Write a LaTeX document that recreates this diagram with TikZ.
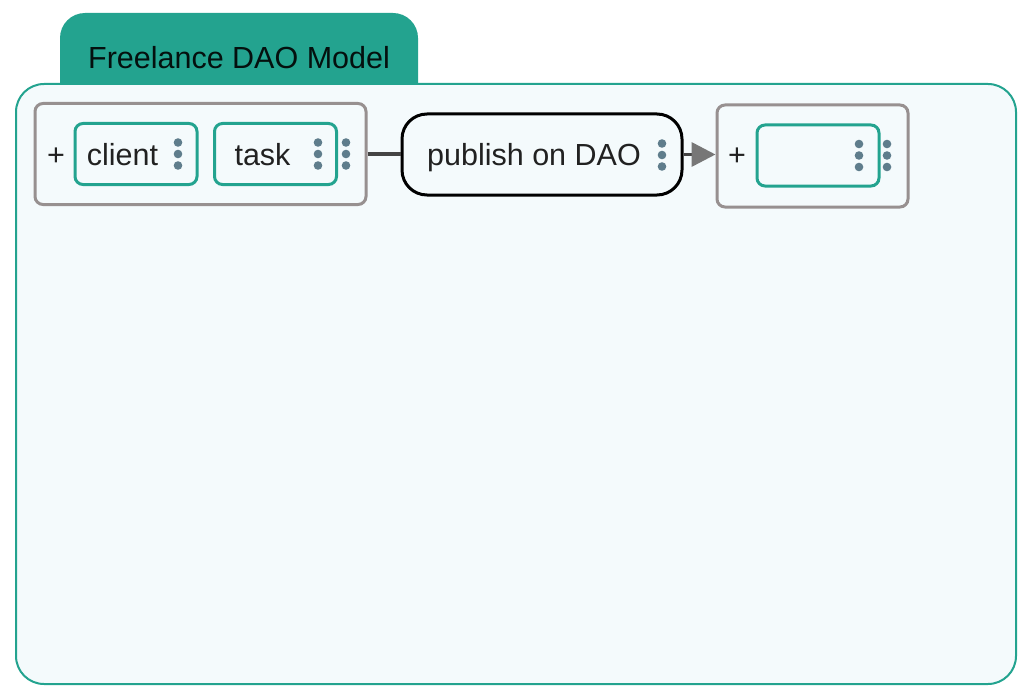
\documentclass[tikz,border=0pt]{standalone}
\usepackage{fontspec}
\setmainfont{Liberation Sans}
\usetikzlibrary{arrows.meta}
\definecolor{tealc}{HTML}{23A38F}
\definecolor{bgc}{HTML}{F4FAFC}
\definecolor{grpc}{HTML}{979090}
\definecolor{dotc}{HTML}{5F7D8C}
\definecolor{txtc}{HTML}{212121}
\definecolor{linec}{HTML}{444444}
\definecolor{headc}{HTML}{777777}
\newcommand\kebab[1]{\fill[dotc] (#1) ++(0,-11.5) circle (4.3) ++(0,11.5) circle (4.3) ++(0,11.5) circle (4.3);}
\begin{document}
\begin{tikzpicture}[x=1pt,y=-1pt,
  every node/.style={font=\fontsize{30.5}{36}\selectfont, text=txtc, inner sep=0pt},
  grpbox/.style={draw=grpc, line width=3pt, rounded corners=8pt, fill=bgc},
  itembox/.style={draw=tealc, line width=3pt, rounded corners=8pt, fill=bgc, minimum width=122pt, minimum height=61pt},
  lbl/.style={anchor=base},
  conn/.style={draw=linec, line width=3.5pt}]
\useasboundingbox (0,0) rectangle (1030,698);
% tab
\fill[tealc, rounded corners=25pt] (60,110) -- (60,13) -- (418,13) -- (418,110) -- cycle;
\node (title) at (239,58) {\color{black!90!tealc}Freelance DAO Model};
% frame
\node[draw=tealc, line width=2pt, fill=bgc, rounded corners=28pt, minimum width=1000pt, minimum height=600pt] (frame) at (516,384) {};
% group 1
\node[grpbox, minimum width=331pt, minimum height=101pt] (g1) at (200.5,154) {};
\node[lbl] (plus1) at (56,165) {+};
\node[itembox] (client) at (136,154) {};
\node[lbl] (clientlbl) at (122.5,165) {client};
\node[itembox] (task) at (275.5,154) {};
\node[lbl] (tasklbl) at (262.5,165) {task};
\kebab{178,154}
\kebab{318,154}
\kebab{346,154}
% publish
\node[draw=black, line width=3pt, rounded corners=25pt, fill=bgc, minimum width=280pt, minimum height=81pt] (pub) at (542,154.5) {};
\node[lbl] (publbl) at (534,165) {publish on DAO};
\kebab{662,155}
% group 2
\node[grpbox, minimum width=191pt, minimum height=102pt] (g2) at (812.5,156) {};
\node[lbl] (plus2) at (737,165) {+};
\node[itembox] (empty) at (818,155.5) {};
\kebab{859,155.5}
\kebab{887,155.5}
% connectors
\draw[conn] (g1.east) -- (g1.east -| pub.west);
\draw[conn, -{Triangle[length=24pt,width=24pt,color=headc]}] (pub.east) -- (pub.east -| g2.west);
\end{tikzpicture}
\end{document}
